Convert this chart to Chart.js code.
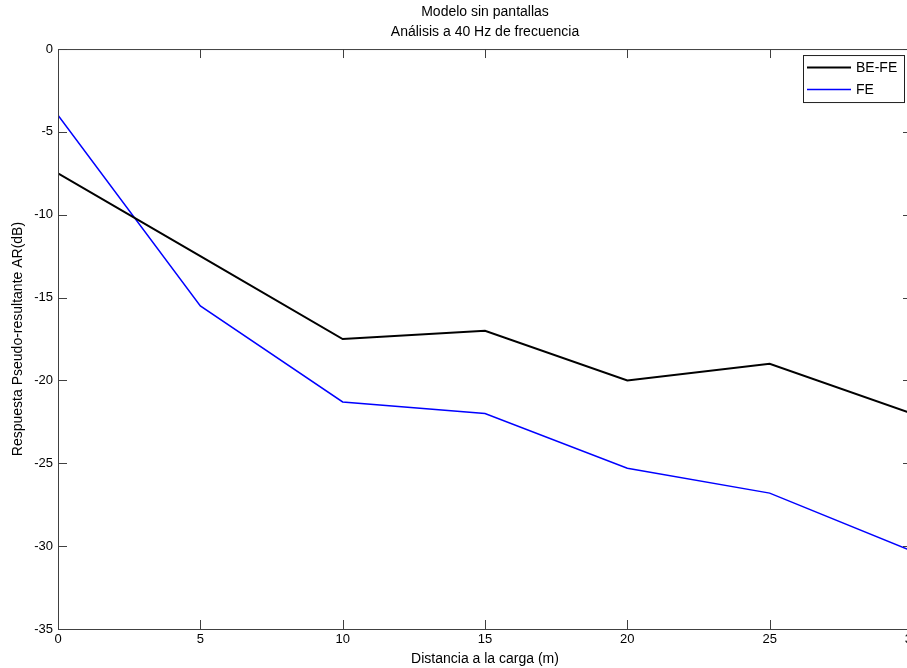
<!DOCTYPE html>
<html>
<head>
<meta charset="utf-8">
<script src="https://cdn.jsdelivr.net/npm/chart.js@4/dist/chart.umd.min.js"></script>
<style>
  html, body { margin: 0; padding: 0; background: #fff; overflow: hidden; }
  #wrap { width: 925px; height: 668px; }
</style>
</head>
<body>
<div id="wrap"><canvas id="chart" width="925" height="668"></canvas></div>
<script>
// Datos
const distancias = [0, 5, 10, 15, 20, 25, 30];
const beFe = [-7.5, -12.5, -17.5, -17, -20, -19, -22];
const fe = [-4, -15.5, -21.3, -22, -25.3, -26.8, -30.3];
const ticksY = [0, -5, -10, -15, -20, -25, -30, -35];
const ticksX = [0, 5, 10, 15, 20, 25, 30];

const familia = 'Liberation Sans, Arial, sans-serif';
const fuenteTicks = { family: familia, size: 13 };
const fuente = { family: familia, size: 14 };
const colorEje = '#404040';

// Caja, marcas hacia dentro y leyenda al estilo MATLAB
const marcoPlugin = {
  id: 'marco',
  afterDatasetsDraw(chart) {
    const { ctx, chartArea: a, scales } = chart;
    const largo = 9;
    ctx.save();
    ctx.strokeStyle = colorEje;
    ctx.lineWidth = 1;
    ctx.strokeRect(a.left + 0.5, a.top + 0.5, a.right - a.left, a.bottom - a.top);
    ctx.beginPath();
    ticksX.forEach(v => {
      const x = Math.round(scales.x.getPixelForValue(v)) + 0.5;
      ctx.moveTo(x, a.bottom); ctx.lineTo(x, a.bottom - largo);
      ctx.moveTo(x, a.top); ctx.lineTo(x, a.top + largo);
    });
    ticksY.forEach(v => {
      const y = Math.round(scales.y.getPixelForValue(v)) + 0.5;
      ctx.moveTo(a.left, y); ctx.lineTo(a.left + largo, y);
      ctx.moveTo(a.right, y); ctx.lineTo(a.right - largo, y);
    });
    ctx.stroke();

    // leyenda
    const bx = a.right - 109, by = a.top + 6, bw = 101, bh = 47;
    ctx.fillStyle = '#fff';
    ctx.fillRect(bx, by, bw, bh);
    ctx.strokeStyle = '#202020';
    ctx.strokeRect(bx + 0.5, by + 0.5, bw, bh);
    ctx.font = fuente.size + 'px ' + fuente.family;
    ctx.textBaseline = 'middle';
    chart.data.datasets.forEach((ds, i) => {
      const y = by + 12.5 + i * 22;
      ctx.strokeStyle = ds.borderColor;
      ctx.lineWidth = ds.borderWidth;
      ctx.beginPath();
      ctx.moveTo(bx + 4, y); ctx.lineTo(bx + 48, y);
      ctx.stroke();
      ctx.fillStyle = '#000';
      ctx.fillText(ds.label, bx + 53, y + 1);
    });
    ctx.restore();
  }
};

const config = {
  type: 'line',
  data: {
    labels: distancias,
    datasets: [
      { label: 'BE-FE', data: beFe, borderColor: '#000000', borderWidth: 2 },
      { label: 'FE', data: fe, borderColor: '#0000ff', borderWidth: 1.5 }
    ]
  },
  options: {
    responsive: false,
    animation: false,
    parsing: false,
    layout: { padding: { left: 0, right: 13, top: 0, bottom: 0 } },
    elements: { point: { radius: 0 }, line: { tension: 0 } },
    plugins: {
      legend: { display: false },
      tooltip: { enabled: false },
      title: {
        display: true,
        fullSize: false,
        text: ['Modelo sin pantallas', 'Análisis a 40 Hz de frecuencia'],
        color: '#000',
        font: { ...fuente, weight: 'normal', lineHeight: 1.43 },
        padding: { top: 2, bottom: 7 }
      }
    },
    scales: {
      x: {
        type: 'linear',
        min: 0, max: 30,
        afterBuildTicks(s) { s.ticks = ticksX.map(v => ({ value: v })); },
        afterFit(s) { s.height = 39; },
        grid: { display: false, drawTicks: false },
        border: { display: false },
        ticks: { color: '#000', font: fuenteTicks, padding: 3, maxRotation: 0, autoSkip: false },
        title: {
          display: true, text: 'Distancia a la carga (m)', color: '#000',
          font: fuente, padding: { top: 1, bottom: 0 }
        }
      },
      y: {
        type: 'linear',
        min: -35, max: 0,
        afterBuildTicks(s) { s.ticks = ticksY.map(v => ({ value: v })); },
        afterFit(s) { s.width = 58; },
        grid: { display: false, drawTicks: false },
        border: { display: false },
        ticks: { color: '#000', font: fuenteTicks, padding: 5 },
        title: {
          display: true, text: 'Respuesta Pseudo-resultante AR(dB)', color: '#000',
          font: fuente, padding: { top: 10, bottom: 0 }
        }
      }
    }
  },
  plugins: [marcoPlugin]
};

// conversión de los datos a puntos x/y
config.data.datasets.forEach(ds => {
  ds.data = ds.data.map((v, i) => ({ x: distancias[i], y: v }));
});

new Chart(document.getElementById('chart'), config);
</script>
</body>
</html>
